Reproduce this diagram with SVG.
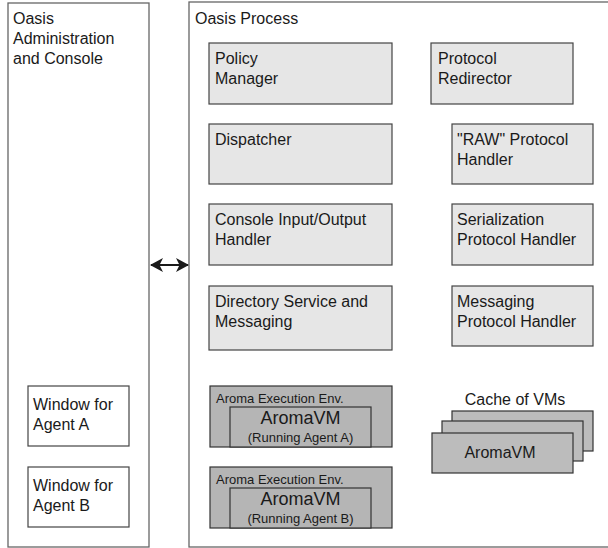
<svg xmlns="http://www.w3.org/2000/svg" width="608" height="548" viewBox="0 0 608 548">
<style>
text{font-family:"Liberation Sans",Arial,sans-serif;font-size:16px;fill:#1a1a1a}
.panel{fill:#fff;stroke:#666;stroke-width:1.3}
.box{fill:#e6e6e6;stroke:#444;stroke-width:1.2}
.env{fill:#b5b5b5;stroke:#333;stroke-width:1.2}
.win{fill:#fff;stroke:#444;stroke-width:1.2}
.sm{font-size:13px}
.vm{font-size:18px}
.c{text-anchor:middle}
</style>
<defs>
<marker id="ah" viewBox="0 0 13 14" refX="12" refY="7" markerWidth="13" markerHeight="14" markerUnits="userSpaceOnUse" orient="auto-start-reverse">
<path d="M0,0 L13,7 L0,14 L3.5,7 Z" fill="#1a1a1a"/>
</marker>
</defs>
<g id="admin">
<rect class="panel" x="8" y="3" width="141" height="544"/>
<text x="13" y="24">Oasis</text>
<text x="13" y="44">Administration</text>
<text x="13" y="64">and Console</text>
</g>
<g id="process">
<rect class="panel" x="189" y="2" width="430" height="545"/>
<text x="195" y="24">Oasis Process</text>
</g>
<g id="policy"><rect class="box" x="209" y="43" width="183" height="61"/><text x="215" y="64">Policy</text><text x="215" y="84">Manager</text></g>
<g id="redirector"><rect class="box" x="431" y="43" width="142" height="61"/><text x="438" y="64">Protocol</text><text x="438" y="84">Redirector</text></g>
<g id="dispatcher"><rect class="box" x="209" y="124" width="183" height="60"/><text x="215" y="145">Dispatcher</text></g>
<g id="raw"><rect class="box" x="452" y="124" width="141" height="60"/><text x="457" y="145">"RAW" Protocol</text><text x="457" y="165">Handler</text></g>
<g id="console"><rect class="box" x="209" y="204" width="183" height="61"/><text x="215" y="225">Console Input/Output</text><text x="215" y="245">Handler</text></g>
<g id="serialization"><rect class="box" x="452" y="204" width="141" height="61"/><text x="457" y="225">Serialization</text><text x="457" y="245">Protocol Handler</text></g>
<g id="directory"><rect class="box" x="209" y="286" width="183" height="64"/><text x="215" y="307">Directory Service and</text><text x="215" y="327">Messaging</text></g>
<g id="messaging"><rect class="box" x="452" y="286" width="141" height="60"/><text x="457" y="307">Messaging</text><text x="457" y="327">Protocol Handler</text></g>
<g id="envA">
<rect class="env" x="210" y="386" width="182" height="61"/>
<text class="sm" x="216" y="403">Aroma Execution Env.</text>
<rect class="env" x="230" y="407" width="141" height="40"/>
<text class="vm c" x="300.5" y="424">AromaVM</text>
<text class="sm c" x="300.5" y="442">(Running Agent A)</text>
</g>
<g id="envB">
<rect class="env" x="210" y="467" width="182" height="61"/>
<text class="sm" x="216" y="484">Aroma Execution Env.</text>
<rect class="env" x="230" y="488" width="141" height="40"/>
<text class="vm c" x="300.5" y="505">AromaVM</text>
<text class="sm c" x="300.5" y="523">(Running Agent B)</text>
</g>
<g id="cache">
<text class="c" x="515" y="405">Cache of VMs</text>
<rect class="env" x="452" y="411" width="141" height="40" style="fill:#bcbcbc"/>
<rect class="env" x="442" y="421" width="141" height="40" style="fill:#bcbcbc"/>
<rect class="env" x="432" y="433" width="141" height="40" style="fill:#bcbcbc"/>
<text class="c" x="500" y="458">AromaVM</text>
</g>
<g id="winA"><rect class="win" x="28" y="386" width="101" height="60"/><text x="33" y="410">Window for</text><text x="33" y="430">Agent A</text></g>
<g id="winB"><rect class="win" x="28" y="467" width="101" height="60"/><text x="33" y="491">Window for</text><text x="33" y="511">Agent B</text></g>
<g id="connectors">
<line x1="151" y1="265" x2="188" y2="265" stroke="#1a1a1a" stroke-width="2" marker-start="url(#ah)" marker-end="url(#ah)"/>
</g>
</svg>
